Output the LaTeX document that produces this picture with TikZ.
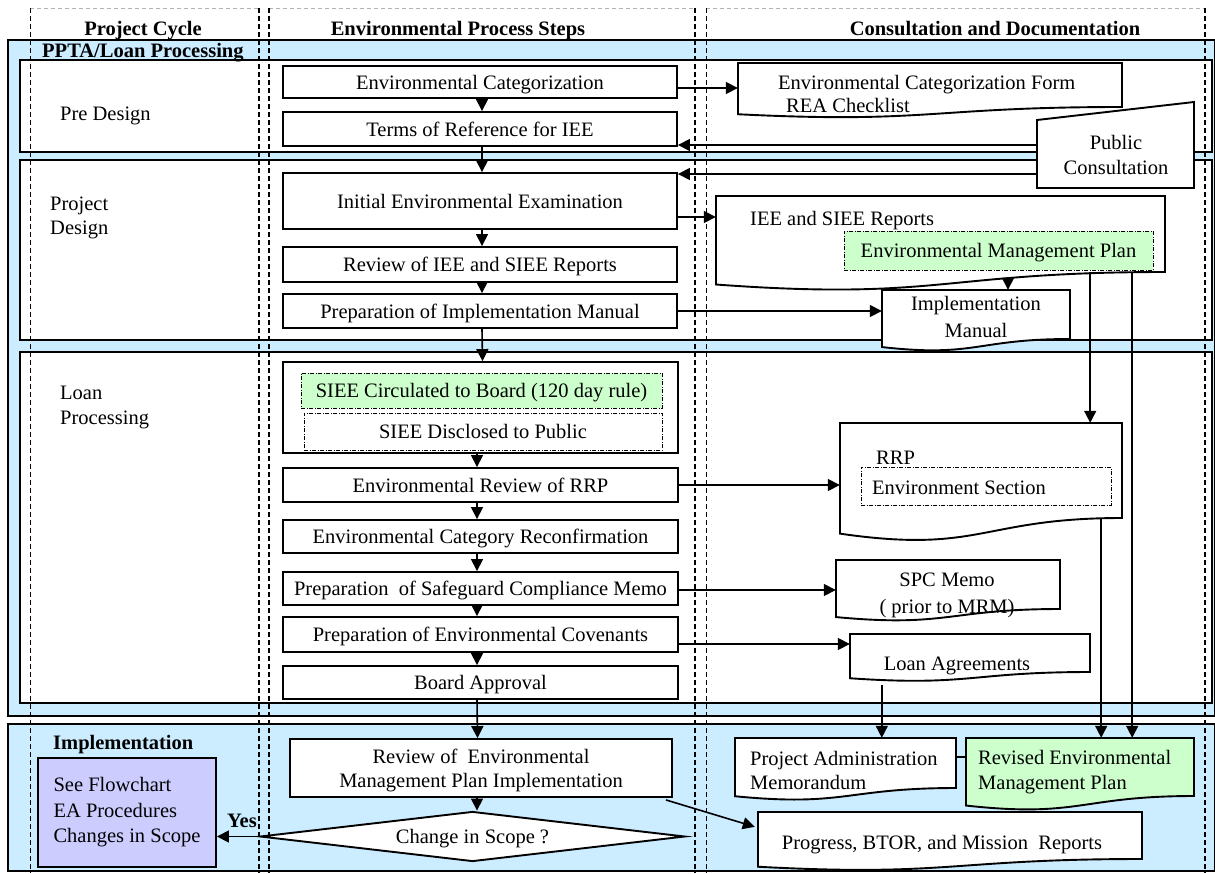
\documentclass[tikz,border=0pt]{standalone}
\usepackage{fontspec}
\setmainfont{Liberation Serif}
\usetikzlibrary{arrows.meta,shapes.geometric,calc,fit}
\definecolor{bandblue}{RGB}{204,236,255}
\definecolor{lgreen}{RGB}{204,255,204}
\definecolor{lav}{RGB}{204,204,255}
% #1 extra style, #2 name, #3 x1, #4 y1 (top), #5 x2, #6 y of right bottom
\newcommand{\docshape}[6]{%
  \pgfmathsetmacro{\docH}{(#6-#4)/0.802}%
  \pgfmathsetmacro{\docYl}{#4+0.934*\docH}%
  \pgfmathsetmacro{\docYc}{#4+1.107*\docH}%
  \pgfmathsetmacro{\docXm}{(#3+#5)/2}%
  \path[docline,#1] (#3,#4) -- (#5,#4) -- (#5,#6) .. controls (\docXm,#6) and (\docXm,\docYc) .. (#3,\docYl) -- cycle;
  \coordinate (#2-nw) at (#3,#4);
  \coordinate (#2-se) at (#5,#6);
  \node[inner sep=0pt, fit=(#2-nw)(#2-se)] (#2) {};
}
\begin{document}
\begin{tikzpicture}[x=1pt,y=-1pt,
  font=\fontsize{20.5}{24}\selectfont,
  band/.style={draw, line width=1.9pt, fill=bandblue},
  phase/.style={draw, line width=1.9pt, fill=white},
  thickdash/.style={line width=1.8pt, dash pattern=on 5pt off 3pt},
  thindash/.style={line width=1pt, dash pattern=on 5pt off 3pt},
  topdash/.style={line width=0.8pt, gray!60, dash pattern=on 4pt off 3pt},
  sl/.style={text height=16.5pt, text depth=2.5pt},
  stepbox/.style={draw, line width=1.9pt, fill=white, minimum width=394pt, inner sep=2pt, align=center},
  subbox/.style={draw, line width=0.8pt, dash pattern=on 4pt off 1.5pt on 1pt off 1.5pt, inner sep=0pt, sl},
  docline/.style={draw, line width=1.9pt, fill=white},
  arr/.style={line width=1.6pt, -{Triangle[length=12pt,width=12pt]}},
  conn/.style={line width=1.6pt},
  lbl/.style={inner sep=0pt, anchor=west, align=left},
  ctr/.style={inner sep=0pt, align=center},
  head/.style={inner sep=0pt, sl, font=\fontsize{20.5}{24}\selectfont\bfseries},
]
\path[use as bounding box, fill=white] (0,0) rectangle (1215,873);

% bands and phase boxes
\draw[band] (8,40) rectangle (1215,716);
\draw[band] (8,724) rectangle (1215,871);
\draw[phase] (20,60) rectangle (1212,152);
\draw[phase] (20,160) rectangle (1212,340);
\draw[phase] (20,352) rectangle (1212,703);

% column frames
\draw[topdash] (30,8) -- (259,8) (269,8) -- (695,8) (706,8) -- (1205,8);
\draw[thindash] (30,8) -- (30,873) (706,8) -- (706,873);
\draw[thickdash] (259,8) -- (259,873) (269,8) -- (269,873) (695,8) -- (695,873) (1205,8) -- (1205,873);

% headers
\node[head] (hpc) at (143,28) {Project Cycle};
\node[head] (hep) at (458,28) {Environmental Process Steps};
\node[head] (hcd) at (995,28) {Consultation and Documentation};
\node[head, anchor=west] (hppta) at (42,50) {PPTA/Loan Processing};
\node[head, anchor=west] (himpl) at (53,742) {Implementation};

% phase labels
\node[lbl, sl] (lpre) at (60,113) {Pre Design};
\node[lbl] (lproj) at (50,218) {Project\\Design};
\node[lbl, font=\fontsize{20.5}{25}\selectfont] (lloan) at (60,407) {Loan\\Processing};

% process steps
\node[stepbox, sl, minimum height=32pt] (envcat) at (480,82) {Environmental Categorization};
\node[stepbox, sl, minimum height=34pt] (tor) at (480,129) {Terms of Reference for IEE};
\node[stepbox, sl, minimum height=56pt] (iee) at (480,201) {Initial Environmental Examination};
\node[stepbox, sl, minimum height=35pt] (riee) at (480,264.5) {Review of IEE and SIEE Reports};
\node[stepbox, sl, minimum height=34pt] (pim) at (480,311) {Preparation of Implementation Manual};
\node[stepbox, minimum width=395pt, minimum height=91pt] (siee) at (480.5,407.5) {};
\node[subbox, fill=lgreen, minimum width=361pt, minimum height=35pt] (circ) at (481.5,390.5) {SIEE Circulated to Board (120 day rule)};
\node[subbox, fill=white, minimum width=358pt, minimum height=37pt] (disc) at (483,431.5) {SIEE Disclosed to Public};
\node[stepbox, sl, minimum width=395pt, minimum height=34pt] (rrp) at (480.5,485) {Environmental Review of RRP};
\node[stepbox, sl, minimum width=395pt, minimum height=33pt] (recon) at (480.5,536.5) {Environmental Category Reconfirmation};
\node[stepbox, sl, minimum width=395pt, minimum height=33pt] (scm) at (480.5,588.5) {Preparation\ \ of Safeguard Compliance Memo};
\node[stepbox, sl, minimum width=395pt, minimum height=35pt] (cov) at (480.5,634.5) {Preparation of Environmental Covenants};
\node[stepbox, sl, minimum width=395pt, minimum height=33pt] (board) at (480.5,682.5) {Board Approval};
\node[stepbox, minimum width=382pt, minimum height=58pt] (remp) at (481,768) {\rule{0pt}{20pt}Review of\ \ Environmental\\Management Plan Implementation};
\node[draw, diamond, fill=white, line width=1.9pt, minimum width=425pt, minimum height=50pt, aspect=8.5, inner sep=0pt, sl] (dia) at (472.5,836.5) {Change in Scope ?};

\node[draw, line width=1.9pt, fill=lav, minimum width=178pt, minimum height=109pt, align=left, font=\fontsize{20.5}{25.5}\selectfont] (see) at (127,812.5) {See Flowchart\\EA Procedures\\Changes in Scope};
\node[head] (yes) at (242,820) {Yes};

% documents
\docshape{}{ecf}{738}{63}{1122}{107}
\node[lbl, sl] (ecf1) at (778,82) {Environmental Categorization Form};
\node[lbl, sl] (ecf2) at (786,105) {REA Checklist};

\path[docline] (1037,120) -- (1194,102) -- (1194,188) -- (1037,188) -- cycle;
\coordinate (pc-nw) at (1037,102);
\coordinate (pc-se) at (1194,188);
\node[inner sep=0pt, fit=(pc-nw)(pc-se)] (pc) {};
\node[ctr, font=\fontsize{20.5}{25.5}\selectfont] (pct) at (1116,155) {Public\\Consultation};

\docshape{}{ieed}{716}{196}{1165}{272}
\node[lbl, sl] (ieedt) at (750,218) {IEE and SIEE Reports};
\node[subbox, fill=lgreen, minimum width=309pt, minimum height=39pt] (emp) at (998.5,250.5) {Environmental Management Plan};

\docshape{}{imd}{882}{290}{1070}{339}
\node[ctr, font=\fontsize{20.5}{26.5}\selectfont] (imdt) at (976,317) {Implementation\\Manual};

\docshape{}{rrpd}{840}{423}{1122}{518}
\node[lbl, sl] (rrpt) at (876,457) {RRP};
\node[subbox, fill=white, minimum width=250pt, minimum height=38pt] (envsec) at (986,486) {};
\node[lbl, sl] (envsect) at (872,487) {Environment Section};

\docshape{}{spcd}{836}{560}{1060}{609}
\node[ctr, font=\fontsize{20.5}{26.5}\selectfont] (spct) at (947,595.5) {SPC Memo\\( prior to MRM)};

\docshape{}{lad}{850}{634}{1090}{672}
\node[ctr, sl] (lat) at (957,663) {Loan Agreements};

\docshape{}{pamd}{735}{738}{956}{788}
\node[lbl] (pamt) at (750,770) {Project Administration\\Memorandum};

\docshape{fill=lgreen}{rempd}{966}{738}{1194}{796}
\node[lbl, font=\fontsize{20.5}{25}\selectfont] (rempt) at (978,772.5) {Revised Environmental\\Management Plan};

\docshape{}{progd}{758}{812}{1142}{859}
\node[ctr, sl] (progt) at (942,842) {Progress, BTOR, and Mission\ \ Reports};

% connectors in the process column
\foreach \a/\b in {envcat/tor,tor/iee,iee/riee,riee/pim,pim/siee}
  \draw[arr] ([xshift=2pt]\a.south) -- ([xshift=2pt]\b.north);
\foreach \a/\b in {siee/rrp,rrp/recon,recon/scm,scm/cov,cov/board,board/remp}
  \draw[arr] ([xshift=-3.5pt]\a.south) -- ([xshift=-3.5pt]\b.north);
\coordinate (a14) at ([xshift=-4pt]remp.south);
\draw[arr] (a14) -- (a14 |- dia.north);

% connectors to documents
\coordinate (a1) at ([yshift=-6pt]envcat.east);
\draw[arr] (a1) -- (a1 -| ecf.west);
\draw[arr] (pc.west) -- (pc.west -| tor.east);
\coordinate (a2) at ([yshift=-29pt]pc.west);
\draw[arr] (a2) -- (a2 -| iee.east);
\coordinate (a3) at ([yshift=-16pt]iee.east);
\draw[arr] (a3) -- (a3 -| ieed.west);
\coordinate (a4) at ([xshift=32pt,yshift=12pt]imd.north);
\draw[arr] (a4) -- ([xshift=32pt]imd.north);
\draw[arr] (pim.east) -- (pim.east -| imd.west);
\coordinate (a5) at ([xshift=-75pt]ieed.south east);
\draw[arr] (a5) -- (a5 |- rrpd.north);
\coordinate (a6) at ([xshift=-33pt]ieed.south east);
\draw[arr] (a6) -- (a6 |- rempd.north);
\coordinate (a7) at ([xshift=-21pt]rrpd.south east);
\draw[arr] (a7) -- (a7 |- rempd.north);
\draw[arr] (rrp.east) -- (rrp.east -| rrpd.west);
\coordinate (a8) at ([yshift=-1.5pt]scm.east);
\draw[arr] (a8) -- (a8 -| spcd.west);
\coordinate (a9) at ([yshift=-9.5pt]cov.east);
\draw[arr] (a9) -- (a9 -| lad.west);
\coordinate (a10) at ([xshift=32pt,yshift=-13pt]lad.south west);
\draw[arr] (a10) -- (a10 |- pamd.north);
\coordinate (a11) at ([yshift=6pt]pamd.east);
\draw[conn] (a11) -- (a11 -| rempd.west);
\coordinate (a12) at ([xshift=-7pt,yshift=-2pt]remp.south east);
\coordinate (a13) at ([xshift=-3pt,yshift=-15pt]progd.north west);
\draw[arr] (a12) -- (a13);
\draw[arr] (dia.west) -- (dia.west -| see.east);
\end{tikzpicture}
\end{document}
